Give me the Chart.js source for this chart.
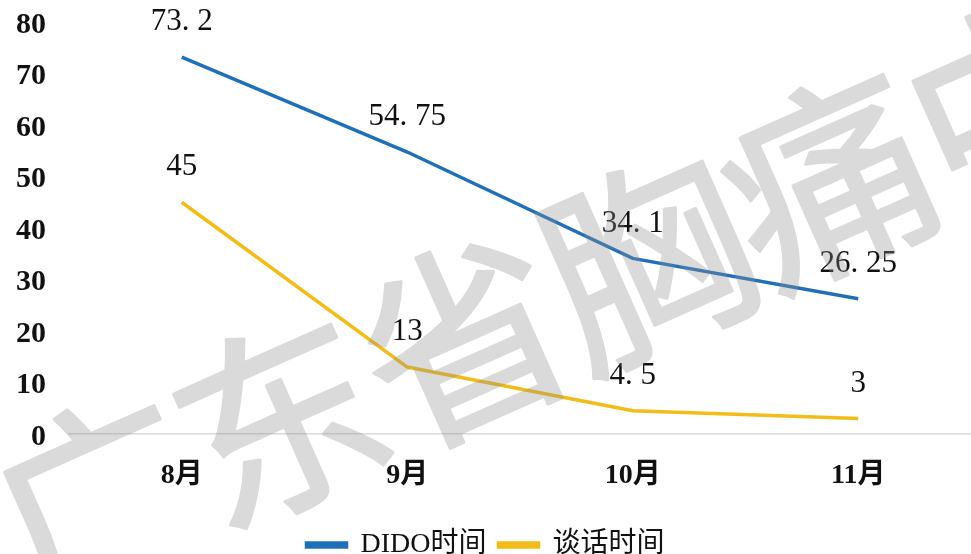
<!DOCTYPE html>
<html>
<head>
<meta charset="utf-8">
<script src="https://cdn.jsdelivr.net/npm/chart.js@4.4.1/dist/chart.umd.min.js"></script>
<style>
  html, body { margin: 0; padding: 0; background: #fff; }
  #wrap { width: 971px; height: 554px; position: relative; }
</style>
</head>
<body>
<div id="wrap"><canvas id="c" width="971" height="554"></canvas></div>
<script>
const categories = ['8月', '9月', '10月', '11月'];
const didoValues = [73.2, 54.75, 34.1, 26.25];
const talkValues = [45, 13, 4.5, 3];
const seriesNames = ['DIDO时间', '谈话时间'];
const yTicks = [0, 10, 20, 30, 40, 50, 60, 70, 80];
const watermarkText = '广东省胸痛中心';

const SERIF = '"Liberation Serif", "DejaVu Serif", "Noto Sans CJK SC", serif';

const labelPlugin = {
  id: 'pointLabels',
  afterDatasetsDraw(chart) {
    const ctx = chart.ctx;
    ctx.save();
    ctx.fillStyle = '#111';
    ctx.font = '31px ' + SERIF;
    ctx.textAlign = 'center';
    ctx.textBaseline = 'middle';
    chart.data.datasets.forEach((ds, i) => {
      const meta = chart.getDatasetMeta(i);
      meta.data.forEach((pt, j) => {
        const txt = String(ds.data[j]).replace('.', '. ');
        ctx.fillText(txt, pt.x, pt.y - 35);
      });
    });
    ctx.restore();
  }
};

const watermarkPlugin = {
  id: 'watermark',
  afterDraw(chart) {
    const w = chart.width, h = chart.height;
    const off = document.createElement('canvas');
    off.width = w; off.height = h;
    const o = off.getContext('2d');
    o.fillStyle = '#8f8f8f';
    o.strokeStyle = '#8f8f8f';
    o.lineWidth = 3;
    o.lineJoin = 'round';
    o.font = '205px "Noto Sans CJK SC", sans-serif';
    o.textAlign = 'center';
    o.textBaseline = 'middle';
    const ang = -24 * Math.PI / 180;
    let cx = 97, cy = 500;
    for (const ch of watermarkText) {
      o.save();
      o.translate(cx, cy);
      o.rotate(ang);
      o.fillText(ch, 0, 0);
      o.strokeText(ch, 0, 0);
      o.restore();
      cx += 183; cy -= 80;
    }
    const ctx = chart.ctx;
    ctx.save();
    ctx.globalAlpha = 0.33;
    ctx.drawImage(off, 0, 0, w, h);
    ctx.restore();
  }
};

new Chart(document.getElementById('c'), {
  type: 'line',
  data: {
    labels: categories,
    datasets: [
      { label: seriesNames[0], data: didoValues, borderColor: '#2070B9', backgroundColor: '#2070B9',
        borderWidth: 3.5, pointRadius: 0, tension: 0 },
      { label: seriesNames[1], data: talkValues, borderColor: '#F3BC19', backgroundColor: '#F3BC19',
        borderWidth: 3.5, pointRadius: 0, tension: 0 }
    ]
  },
  options: {
    responsive: false,
    animation: false,
    layout: { padding: { top: 22, right: 0, left: 0, bottom: -15 } },
    plugins: {
      tooltip: { enabled: false },
      legend: {
        position: 'bottom',
        labels: {
          color: '#111',
          font: { family: SERIF, size: 28 },
          boxWidth: 40, boxHeight: 4, padding: 12
        }
      }
    },
    scales: {
      x: {
        offset: true,
        afterFit(scale) { scale.height = 85; scale.paddingLeft = 0; scale.paddingRight = 0; },
        grid: { display: false, drawTicks: false },
        border: { display: true, color: '#d9d9d9', width: 1.5 },
        ticks: { color: '#111', padding: 25, font: { family: SERIF, size: 28, weight: 'bold' } }
      },
      y: {
        min: 0, max: 80,
        afterBuildTicks(scale) { scale.ticks = yTicks.map(v => ({ value: v })); },
        afterFit(scale) { scale.width = 69; scale.paddingTop = 0; scale.paddingBottom = 0; },
        grid: { display: false, drawTicks: false },
        border: { display: false },
        ticks: { color: '#111', padding: 23, labelOffset: 3, font: { family: SERIF, size: 30, weight: 'bold' } }
      }
    }
  },
  plugins: [labelPlugin, watermarkPlugin]
});
</script>
</body>
</html>
